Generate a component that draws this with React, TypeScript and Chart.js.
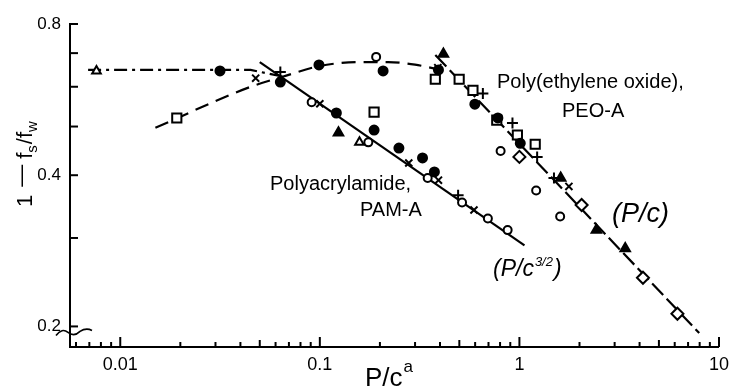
import React, { useEffect, useRef } from 'react';
import { Chart, registerables } from 'chart.js';

Chart.register(...registerables);

type P = [number, number];

// ---- axes ----
const X_MIN = 0.0056;
const X_MAX = 10;
const Y_MIN = 0.182;
const Y_MAX = 0.8;
const X_MAJOR = [0.01, 0.1, 1, 10];
const X_TICK_LABELS = ['0.01', '0.1', '1', '10'];
const Y_TICKS = [0.2, 0.3, 0.4, 0.5, 0.6, 0.7, 0.8];
const Y_LABELED = [0.2, 0.4, 0.8];

// ---- Polyacrylamide, PAM-A ----
const PAM_FILLED_CIRCLES: P[] = [[0.0316, 0.645], [0.0634, 0.613], [0.121, 0.532], [0.187, 0.492], [0.249, 0.453], [0.327, 0.433], [0.375, 0.406]];
const PAM_OPEN_CIRCLES: P[] = [[0.091, 0.559], [0.175, 0.465], [0.347, 0.395], [0.516, 0.353], [0.695, 0.328], [0.873, 0.311]];
const PAM_OPEN_TRIANGLES: P[] = [[0.0076, 0.645], [0.158, 0.465]];
const PAM_FILLED_TRIANGLES: P[] = [[0.124, 0.486]];
const PAM_CROSSES: P[] = [[0.0477, 0.624], [0.1, 0.555], [0.279, 0.423], [0.393, 0.391], [0.592, 0.341]];
const PAM_PLUSES: P[] = [[0.0634, 0.642], [0.493, 0.365]];

// ---- Poly(ethylene oxide), PEO-A ----
const PEO_SQUARES: P[] = [[0.0192, 0.52], [0.187, 0.534], [0.379, 0.621], [0.499, 0.621], [0.585, 0.59], [0.77, 0.515], [0.977, 0.481], [1.2, 0.461]];
const PEO_FILLED_CIRCLES: P[] = [[0.099, 0.663], [0.2075, 0.645], [0.393, 0.648], [0.598, 0.554], [0.78, 0.52], [1.01, 0.463]];
const PEO_OPEN_CIRCLES: P[] = [[0.1915, 0.688], [0.805, 0.447], [1.213, 0.373], [1.6, 0.331]];
const PEO_FILLED_TRIANGLES: P[] = [[0.416, 0.697], [1.61, 0.395], [2.43, 0.311], [3.39, 0.286]];
const PEO_PLUSES: P[] = [[0.656, 0.582], [0.923, 0.508], [1.227, 0.435], [1.49, 0.395]];
const PEO_CROSSES: P[] = [[0.39, 0.655], [1.77, 0.38]];
const PEO_DIAMONDS: P[] = [[1.0, 0.435], [2.05, 0.349], [4.16, 0.25], [6.19, 0.212]];

// ---- fitted curves ----
const PAM_PLATEAU: P[] = [[0.0069, 0.648], [0.045, 0.648], [0.066, 0.628]];
const PAM_POWER_LINE: P[] = [[0.05, 0.672], [1.06, 0.29]];
const PEO_RISE: P[] = [[0.015, 0.497], [0.0435, 0.597], [0.065, 0.628], [0.1, 0.66], [0.16, 0.672], [0.22, 0.672], [0.3, 0.664], [0.39, 0.65]];
const PEO_POWER_LINE: P[] = [[0.379, 0.694], [7.96, 0.194]];

const FONT = '"Liberation Sans", Arial, sans-serif';

const toXY = (arr: P[]) => arr.map(([x, y]) => ({ x, y }));

function markers(data: P[], style: string, filled: boolean, radius: number) {
  return {
    type: 'scatter' as const,
    data: toXY(data),
    showLine: false,
    pointStyle: style,
    pointRadius: radius,
    pointBorderWidth: 2,
    pointBorderColor: '#000',
    pointBackgroundColor: filled ? '#000' : '#fff',
  };
}

function curve(data: P[], dash: number[], smooth: boolean) {
  return {
    type: 'line' as const,
    data: toXY(data),
    showLine: true,
    pointRadius: 0,
    borderColor: '#000',
    borderWidth: 2.2,
    borderDash: dash,
    fill: false,
    cubicInterpolationMode: smooth ? ('monotone' as const) : ('default' as const),
    tension: smooth ? 0.4 : 0,
  };
}

const decorPlugin = {
  id: 'decor',
  afterDraw(chart: any) {
    const { ctx, chartArea, scales } = chart;
    const xs = scales.x;
    const ys = scales.y;
    ctx.save();
    ctx.strokeStyle = '#000';
    ctx.fillStyle = '#000';
    ctx.lineWidth = 2;
    // inward y ticks
    Y_TICKS.forEach((v) => {
      const py = ys.getPixelForValue(v);
      ctx.beginPath();
      ctx.moveTo(chartArea.left, py);
      ctx.lineTo(chartArea.left + 8, py);
      ctx.stroke();
    });
    // inward x ticks
    for (let e = -3; e <= 1; e++) {
      for (let m = 1; m <= 9; m++) {
        const v = m * Math.pow(10, e);
        if (v < X_MIN || v > X_MAX * 1.0001) continue;
        const px = xs.getPixelForValue(v);
        const len = m === 1 ? 10 : m === 5 ? 7 : 5;
        ctx.beginPath();
        ctx.moveTo(px, chartArea.bottom);
        ctx.lineTo(px, chartArea.bottom - len);
        ctx.stroke();
      }
    }
    // axis break squiggle near 0.2
    const by = ys.getPixelForValue(0.2) + 6;
    ctx.lineWidth = 1.6;
    ctx.beginPath();
    ctx.moveTo(chartArea.left - 14, by + 3);
    ctx.quadraticCurveTo(chartArea.left - 8, by - 5, chartArea.left - 2, by);
    ctx.quadraticCurveTo(chartArea.left + 4, by + 5, chartArea.left + 10, by - 1);
    ctx.quadraticCurveTo(chartArea.left + 16, by - 5, chartArea.left + 22, by - 2);
    ctx.stroke();

    // annotations
    ctx.textBaseline = 'middle';
    ctx.textAlign = 'left';
    ctx.font = `20px ${FONT}`;
    ctx.fillText('Poly(ethylene oxide),', 497, 82);
    ctx.fillText('PEO-A', 562, 111);
    ctx.fillText('Polyacrylamide,', 270, 184);
    ctx.fillText('PAM-A', 360, 210);

    ctx.font = `italic 27px ${FONT}`;
    ctx.fillText('(P/c)', 612, 214);

    ctx.font = `italic 23px ${FONT}`;
    let x0 = 493;
    ctx.fillText('(P/c', x0, 270);
    x0 += ctx.measureText('(P/c').width + 1;
    ctx.font = `italic 13px ${FONT}`;
    ctx.fillText('3/2', x0, 262);
    x0 += ctx.measureText('3/2').width + 1;
    ctx.font = `italic 23px ${FONT}`;
    ctx.fillText(')', x0, 270);

    // x title P/c^a
    ctx.textBaseline = 'alphabetic';
    ctx.font = `26px ${FONT}`;
    let tx = 365;
    ctx.fillText('P/c', tx, 386);
    tx += ctx.measureText('P/c').width + 1;
    ctx.font = `17px ${FONT}`;
    ctx.fillText('a', tx, 372);

    // y title 1 − fs/fw (rotated)
    ctx.save();
    ctx.translate(32, 207);
    ctx.rotate(-Math.PI / 2);
    let ty = 0;
    ctx.font = `22px ${FONT}`;
    ctx.fillText('1', ty, 0);
    ty += ctx.measureText('1').width + 8;
    ctx.fillText('\u2014', ty, -4);
    ty += ctx.measureText('\u2014').width + 6;
    ctx.fillText('f', ty, 0);
    ty += ctx.measureText('f').width;
    ctx.font = `15px ${FONT}`;
    ctx.fillText('s', ty, 5);
    ty += ctx.measureText('s').width + 1;
    ctx.font = `22px ${FONT}`;
    ctx.fillText('/f', ty, 0);
    ty += ctx.measureText('/f').width;
    ctx.font = `15px ${FONT}`;
    ctx.fillText('w', ty, 5);
    ctx.restore();

    ctx.restore();
  },
};

export default function App() {
  const ref = useRef<HTMLCanvasElement | null>(null);

  useEffect(() => {
    if (!ref.current) return;
    const datasets: any[] = [
      markers(PAM_FILLED_CIRCLES, 'circle', true, 4.5),
      markers(PEO_FILLED_CIRCLES, 'circle', true, 4.5),
      markers(PAM_OPEN_CIRCLES, 'circle', false, 4),
      markers(PEO_OPEN_CIRCLES, 'circle', false, 4),
      markers(PAM_OPEN_TRIANGLES, 'triangle', false, 5),
      markers(PAM_FILLED_TRIANGLES, 'triangle', true, 5.5),
      markers(PEO_FILLED_TRIANGLES, 'triangle', true, 5.5),
      markers(PAM_CROSSES, 'crossRot', false, 5),
      markers(PEO_CROSSES, 'crossRot', false, 5),
      markers(PAM_PLUSES, 'cross', false, 5.5),
      markers(PEO_PLUSES, 'cross', false, 5.5),
      markers(PEO_SQUARES, 'rect', false, 6.5),
      markers(PEO_DIAMONDS, 'rectRot', false, 6),
      curve(PAM_PLATEAU, [13, 5, 3, 5], false),
      curve(PAM_POWER_LINE, [], false),
      curve(PEO_RISE, [14, 8], true),
      curve(PEO_POWER_LINE, [16, 5], false),
    ];

    const chart = new Chart(ref.current, {
      type: 'scatter',
      data: { datasets },
      plugins: [decorPlugin],
      options: {
        animation: false,
        responsive: false,
        events: [],
        layout: { padding: { left: 0, top: 24, right: 10, bottom: 0 } },
        plugins: { legend: { display: false }, tooltip: { enabled: false } },
        scales: {
          x: {
            type: 'logarithmic',
            position: 'bottom',
            min: X_MIN,
            max: X_MAX,
            afterBuildTicks: (scale: any) => {
              scale.ticks = X_MAJOR.map((v) => ({ value: v }));
            },
            afterFit: (scale: any) => {
              scale.height = 40;
            },
            ticks: {
              autoSkip: false,
              maxRotation: 0,
              padding: 7,
              color: '#000',
              font: { family: FONT, size: 18 },
              callback: (v: any) => {
                const i = X_MAJOR.indexOf(Number(v));
                return i >= 0 ? X_TICK_LABELS[i] : '';
              },
            },
            grid: { display: false, drawTicks: false },
            border: { display: true, color: '#000', width: 2 },
          },
          y: {
            type: 'logarithmic',
            position: 'left',
            min: Y_MIN,
            max: Y_MAX,
            afterBuildTicks: (scale: any) => {
              scale.ticks = Y_TICKS.map((v) => ({ value: v }));
            },
            afterFit: (scale: any) => {
              scale.width = 70;
            },
            ticks: {
              autoSkip: false,
              padding: 9,
              color: '#000',
              font: { family: FONT, size: 17 },
              callback: (v: any) => (Y_LABELED.includes(Number(v)) ? String(v) : ''),
            },
            grid: { display: false, drawTicks: false },
            border: { display: true, color: '#000', width: 2 },
          },
        },
      },
    } as any);

    return () => chart.destroy();
  }, []);

  return (
    <div style={{ position: 'absolute', left: 0, top: 0, width: 736, height: 387, background: '#fff' }}>
      <canvas ref={ref} width={736} height={387} />
    </div>
  );
}
